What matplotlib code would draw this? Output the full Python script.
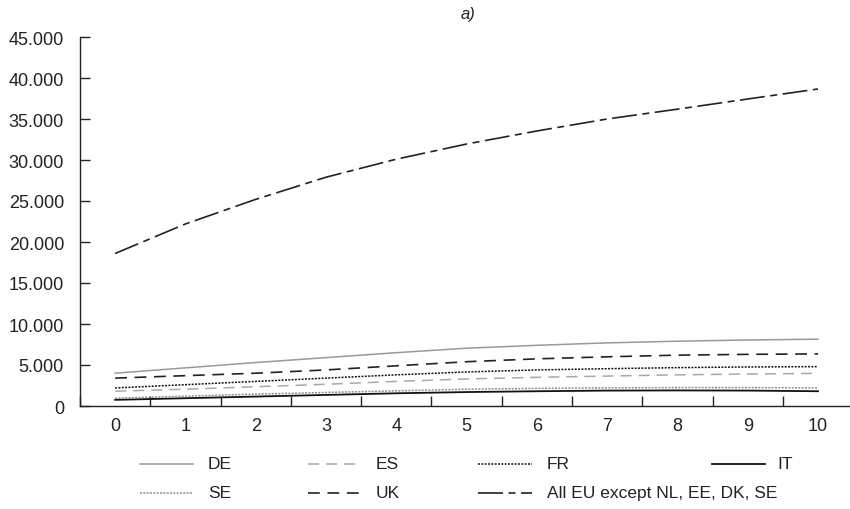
import matplotlib
matplotlib.use("Agg")
import matplotlib.pyplot as plt
from matplotlib.lines import Line2D
from matplotlib.ticker import FuncFormatter, MultipleLocator
import numpy as np

years = list(range(11))

de = [4000, 4650, 5300, 5900, 6500, 7050, 7400, 7700, 7900, 8050, 8150]
es = [1800, 2050, 2350, 2650, 3000, 3300, 3500, 3650, 3800, 3900, 3980]
fr = [2200, 2600, 3000, 3400, 3800, 4150, 4400, 4550, 4680, 4760, 4800]
it = [750, 950, 1150, 1350, 1550, 1700, 1800, 1880, 1900, 1880, 1800]
se = [950, 1200, 1450, 1650, 1850, 2050, 2150, 2220, 2250, 2250, 2200]
uk = [3400, 3700, 4000, 4400, 4900, 5400, 5750, 6000, 6200, 6300, 6350]
all_eu = [18600, 22200, 25200, 27900, 30100, 31950, 33540, 35000, 36200, 37440, 38660]

plt.rcParams["font.family"] = ["Liberation Sans", "DejaVu Sans"]
plt.rcParams["lines.scale_dashes"] = False

series = [
    ("DE", de, dict(color="#9a9a9a", lw=1.1, ls="-")),
    ("ES", es, dict(color="#a8a8a8", lw=1.1, ls=(0, (8, 5)))),
    ("FR", fr, dict(color="#111111", lw=1.1, ls=(0, (1.4, 1.0)))),
    ("IT", it, dict(color="#111111", lw=1.3, ls="-")),
    ("SE", se, dict(color="#8c8c8c", lw=1.1, ls=(0, (1.4, 1.0)))),
    ("UK", uk, dict(color="#222222", lw=1.2, ls=(0, (8.5, 5.5)))),
    ("All EU except NL, EE, DK, SE", all_eu,
     dict(color="#222222", lw=1.2, ls=(0, (18, 4, 5, 4)))),
]

fig = plt.figure(figsize=(8.5, 5.1), dpi=100)
ax = fig.add_axes([80 / 850, 1 - 407 / 510, 1 - 80 / 850, (407 - 38) / 510])

for name, vals, style in series:
    ax.plot(years, vals, **style)

ax.set_xlim(-0.5, 10.455)
ax.set_ylim(0, 45000)
ax.xaxis.set_major_locator(MultipleLocator(1))
ax.xaxis.set_minor_locator(MultipleLocator(1, offset=0.5))
ax.yaxis.set_major_locator(MultipleLocator(5000))
ax.yaxis.set_major_formatter(FuncFormatter(lambda v, p: f"{v:,.0f}".replace(",", ".")))

for side in ("top", "right"):
    ax.spines[side].set_visible(False)
for side in ("left", "bottom"):
    ax.spines[side].set_linewidth(1.0)
    ax.spines[side].set_color("#222222")

ax.tick_params(axis="y", direction="in", length=7, width=1.0, color="#222222",
               pad=11.5, labelsize=13, labelcolor="#222222")
ax.tick_params(axis="x", which="major", length=0, pad=8, labelsize=13, labelcolor="#222222")
ax.tick_params(axis="x", which="minor", direction="in", length=7, width=1.0, color="#222222")
ax.set_facecolor("none")

fig.text(468 / 850, 1 - 15 / 510, "a)", ha="center", va="center", fontsize=12,
         style="italic", color="#222222")

# hand-placed legend: (line start, line end, text x, row y) in pixels
legend_slots = [
    (140, 193, 208, 465),
    (308, 361, 376, 465),
    (478, 532, 547, 465),
    (712, 765, 777, 465),
    (140, 193, 208, 494),
    (308, 361, 376, 494),
    (478, 532, 547, 494),
]
for (name, vals, style), (x0, x1, tx, y) in zip(series, legend_slots):
    fy = 1 - y / 510
    fig.add_artist(Line2D([x0 / 850, x1 / 850], [fy, fy], transform=fig.transFigure, **style))
    fig.text(tx / 850, fy, name, ha="left", va="center", fontsize=12.5, color="#222222")

fig.savefig("out.png", dpi=100)
